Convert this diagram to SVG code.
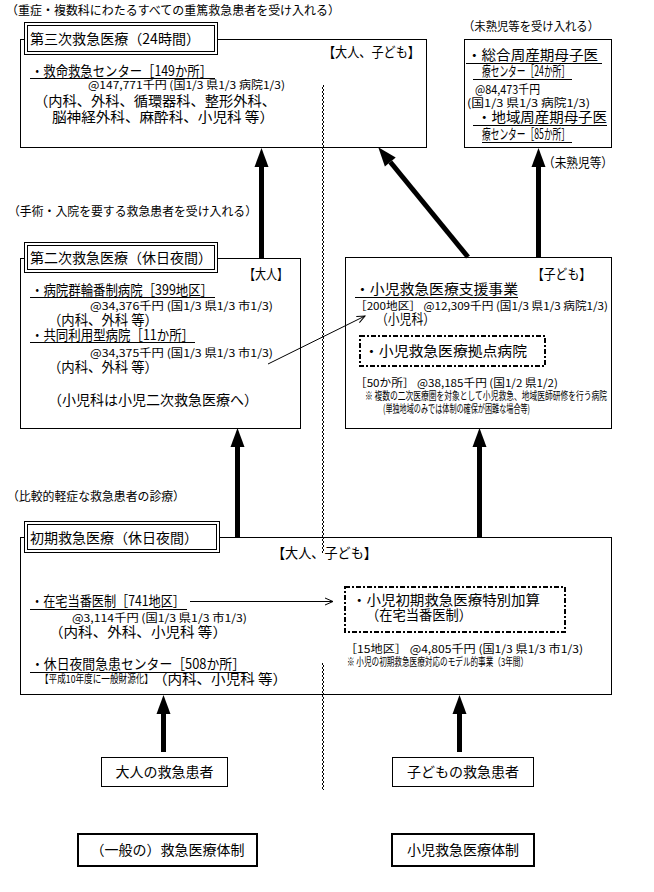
<svg xmlns="http://www.w3.org/2000/svg" width="654" height="892" viewBox="0 0 654 892">
<style>
text{font-family:'Noto Sans CJK JP','Noto Sans CJK SC',sans-serif;fill:#000}
.t14{font-size:14px}
.t13{font-size:13px}
.t12{font-size:12px}
.t11{font-size:11px}
.box{fill:#fff;stroke:#000;stroke-width:1}
.box2{fill:#fff;stroke:#000;stroke-width:2}
.ul{stroke:#000;stroke-width:1}
.dash{fill:#fff;stroke:#000;stroke-width:2;stroke-dasharray:5 2 2 2}
.thick{stroke:#000;stroke-width:5;fill:none;marker-end:url(#head)}
.thin{stroke:#000;stroke-width:1;fill:none;marker-end:url(#open)}
.mid{text-anchor:middle}
</style>
<defs>
<marker id="head" markerUnits="userSpaceOnUse" markerWidth="22" markerHeight="16" refX="0" refY="7" orient="auto" overflow="visible">
<path d="M0,0 L19,7 L0,14 z" fill="#000"/>
</marker>
<marker id="open" markerUnits="userSpaceOnUse" markerWidth="10" markerHeight="8" refX="8" refY="3.5" orient="auto" overflow="visible">
<path d="M0,0 L8,3.5 L0,7" fill="none" stroke="#000" stroke-width="1"/>
</marker>
<pattern id="wave" width="4" height="4" patternUnits="userSpaceOnUse" x="321" y="0">
<path d="M1,0 L3,2 L1,4" fill="none" stroke="#000" stroke-width="1"/>
</pattern>
</defs>
<rect width="654" height="892" fill="#fff"/>

<g id="tertiary">
<text class="t12" x="6" y="15" textLength="334" lengthAdjust="spacingAndGlyphs">（重症・複数科にわたるすべての重篤救急患者を受け入れる）</text>
<rect class="box" x="20.5" y="39.5" width="406" height="108"/>
<rect class="box" x="24.5" y="22.5" width="193" height="32"/>
<rect class="box" x="27.5" y="25.5" width="187" height="26"/>
<text class="t14" x="30" y="44" textLength="170" lengthAdjust="spacingAndGlyphs">第三次救急医療（24時間）</text>
<text class="t14" x="323" y="57" textLength="97" lengthAdjust="spacingAndGlyphs">【大人、子ども】</text>
<text class="t14" x="31" y="76" textLength="181" lengthAdjust="spacingAndGlyphs">・救命救急センター［149か所］</text>
<line class="ul" x1="30" y1="78.5" x2="215" y2="78.5"/>
<text class="t11" x="88" y="89" textLength="197" lengthAdjust="spacingAndGlyphs">@147,771千円 (国1/3 県1/3 病院1/3)</text>
<text class="t14" x="34" y="106" textLength="242" lengthAdjust="spacingAndGlyphs">（内科、外科、循環器科、整形外科、</text>
<text class="t14" x="52" y="122" textLength="222" lengthAdjust="spacingAndGlyphs">脳神経外科、麻酔科、小児科 等）</text>
</g>

<g id="perinatal">
<text class="t12" x="463" y="31" textLength="136" lengthAdjust="spacingAndGlyphs">（未熟児等を受け入れる）</text>
<rect class="box" x="464.5" y="39.5" width="147" height="108"/>
<text class="t14" x="467" y="60" textLength="131" lengthAdjust="spacingAndGlyphs">・総合周産期母子医</text>
<line class="ul" x1="466" y1="63.5" x2="602" y2="63.5"/>
<text class="t14" x="482" y="76" textLength="88" lengthAdjust="spacingAndGlyphs">療センター［24か所］</text>
<line class="ul" x1="473" y1="79.5" x2="572" y2="79.5"/>
<text class="t12" x="475" y="94" textLength="65" lengthAdjust="spacingAndGlyphs">@84,473千円</text>
<text class="t11" x="467" y="107" textLength="123" lengthAdjust="spacingAndGlyphs">(国1/3 県1/3 病院1/3)</text>
<text class="t14" x="477" y="122" textLength="130" lengthAdjust="spacingAndGlyphs">・地域周産期母子医</text>
<line class="ul" x1="473" y1="125.5" x2="607" y2="125.5"/>
<text class="t14" x="482" y="139" textLength="88" lengthAdjust="spacingAndGlyphs">療センター［85か所］</text>
<line class="ul" x1="482" y1="142.5" x2="572" y2="142.5"/>
</g>

<g id="secondary-adult">
<text class="t12" x="8" y="216" textLength="249" lengthAdjust="spacingAndGlyphs">（手術・入院を要する救急患者を受け入れる）</text>
<rect class="box" x="20.5" y="258.5" width="280" height="170"/>
<rect class="box" x="24.5" y="242.5" width="193" height="30"/>
<rect class="box" x="27.5" y="245.5" width="187" height="24"/>
<text class="t14" x="30" y="263" textLength="182" lengthAdjust="spacingAndGlyphs">第二次救急医療（休日夜間）</text>
<text class="t14" x="244" y="279" textLength="44" lengthAdjust="spacingAndGlyphs">【大人】</text>
<text class="t14" x="31" y="295" textLength="182" lengthAdjust="spacingAndGlyphs">・病院群輪番制病院［399地区］</text>
<line class="ul" x1="30" y1="297.5" x2="215" y2="297.5"/>
<text class="t11" x="90" y="310" textLength="183" lengthAdjust="spacingAndGlyphs">@34,376千円 (国1/3 県1/3 市1/3)</text>
<text class="t14" x="48" y="325" textLength="110" lengthAdjust="spacingAndGlyphs">（内科、外科 等）</text>
<text class="t14" x="31" y="340" textLength="163" lengthAdjust="spacingAndGlyphs">・共同利用型病院［11か所］</text>
<line class="ul" x1="30" y1="342.5" x2="195" y2="342.5"/>
<text class="t11" x="90" y="357" textLength="183" lengthAdjust="spacingAndGlyphs">@34,375千円 (国1/3 県1/3 市1/3)</text>
<text class="t14" x="48" y="372" textLength="110" lengthAdjust="spacingAndGlyphs">（内科、外科 等）</text>
<text class="t14" x="48" y="405" textLength="210" lengthAdjust="spacingAndGlyphs">（小児科は小児二次救急医療へ）</text>
</g>

<g id="secondary-child">
<rect class="box" x="345.5" y="257.5" width="266" height="171"/>
<text class="t14" x="532" y="279" textLength="59" lengthAdjust="spacingAndGlyphs">【子ども】</text>
<text class="t14" x="355" y="294" textLength="163" lengthAdjust="spacingAndGlyphs">・小児救急医療支援事業</text>
<line class="ul" x1="355" y1="297.5" x2="518" y2="297.5"/>
<text class="t11" x="355" y="310" textLength="253" lengthAdjust="spacingAndGlyphs">［200地区］ @12,309千円 (国1/3 県1/3 病院1/3)</text>
<text class="t14" x="376" y="324" textLength="59" lengthAdjust="spacingAndGlyphs">（小児科）</text>
<rect class="dash" x="360" y="336" width="185" height="30"/>
<text class="t14" x="364" y="356" textLength="163" lengthAdjust="spacingAndGlyphs">・小児救急医療拠点病院</text>
<text class="t11" x="355" y="387" textLength="203" lengthAdjust="spacingAndGlyphs">［50か所］ @38,185千円 (国1/2 県1/2)</text>
<text class="t11" x="365" y="400" textLength="242" lengthAdjust="spacingAndGlyphs">※ 複数の二次医療圏を対象として小児救急、地域医師研修を行う病院</text>
<text class="t11" x="383" y="413" textLength="147" lengthAdjust="spacingAndGlyphs">(単独地域のみでは体制の確保が困難な場合等)</text>
</g>

<g id="primary">
<text class="t12" x="7" y="501" textLength="178" lengthAdjust="spacingAndGlyphs">（比較的軽症な救急患者の診療）</text>
<rect class="box" x="20.5" y="537.5" width="591" height="157"/>
<rect class="box" x="24.5" y="521.5" width="195" height="31"/>
<rect class="box" x="27.5" y="524.5" width="189" height="25"/>
<text class="t14" x="30" y="543" textLength="168" lengthAdjust="spacingAndGlyphs">初期救急医療（休日夜間）</text>
<text class="t14" x="272" y="558" textLength="105" lengthAdjust="spacingAndGlyphs">【大人、子ども】</text>
<text class="t14" x="31" y="606" textLength="154" lengthAdjust="spacingAndGlyphs">・在宅当番医制［741地区］</text>
<line class="ul" x1="30" y1="609.5" x2="187" y2="609.5"/>
<text class="t11" x="72" y="622" textLength="175" lengthAdjust="spacingAndGlyphs">@3,114千円 (国1/3 県1/3 市1/3)</text>
<text class="t14" x="49" y="637" textLength="178" lengthAdjust="spacingAndGlyphs">（内科、外科、小児科 等）</text>
<text class="t14" x="31" y="669" textLength="214" lengthAdjust="spacingAndGlyphs">・休日夜間急患センター［508か所］</text>
<line class="ul" x1="30" y1="672.5" x2="248" y2="672.5"/>
<text class="t11" x="40" y="683" textLength="113" lengthAdjust="spacingAndGlyphs">【平成10年度に一般財源化】</text>
<text class="t14" x="153" y="684" textLength="134" lengthAdjust="spacingAndGlyphs">（内科、小児科 等）</text>
<rect class="dash" x="345" y="587" width="220" height="45"/>
<text class="t14" x="352" y="605" textLength="188" lengthAdjust="spacingAndGlyphs">・小児初期救急医療特別加算</text>
<text class="t14" x="366" y="620" textLength="106" lengthAdjust="spacingAndGlyphs">（在宅当番医制）</text>
<text class="t11" x="345" y="653" textLength="238" lengthAdjust="spacingAndGlyphs">［15地区］ @4,805千円 (国1/3 県1/3 市1/3)</text>
<text class="t11" x="347" y="666" textLength="181" lengthAdjust="spacingAndGlyphs">※ 小児の初期救急医療対応のモデル的事業（3年間）</text>
</g>

<g id="divider">
<rect x="321" y="85" width="4" height="468" fill="url(#wave)"/>
<rect x="321" y="663" width="4" height="127" fill="url(#wave)"/>
</g>

<g id="patient-adult">
<rect class="box" x="101.5" y="757.5" width="126" height="29"/>
<text class="t14 mid" x="164.5" y="777">大人の救急患者</text>
</g>
<g id="patient-child">
<rect class="box" x="392.5" y="757.5" width="141" height="29"/>
<text class="t14 mid" x="463" y="777">子どもの救急患者</text>
</g>
<g id="system-general">
<rect class="box2" x="78" y="834" width="179" height="32"/>
<text class="t14 mid" x="167.5" y="855">（一般の）救急医療体制</text>
</g>
<g id="system-child">
<rect class="box2" x="392" y="834" width="142" height="32"/>
<text class="t14 mid" x="463" y="855">小児救急医療体制</text>
</g>

<g id="connectors">
<line class="thick" x1="261.5" y1="258" x2="261.5" y2="167"/>
<line class="thick" x1="468" y1="257" x2="390.3" y2="162"/>
<line class="thick" x1="538.5" y1="257" x2="538.5" y2="167"/>
<text class="t13" x="543" y="167" textLength="70" lengthAdjust="spacingAndGlyphs">（未熟児等）</text>
<line class="thick" x1="237.5" y1="537" x2="237.5" y2="447"/>
<line class="thick" x1="479.5" y1="537" x2="479.5" y2="447"/>
<line class="thick" x1="163.5" y1="752" x2="163.5" y2="714"/>
<line class="thick" x1="459.5" y1="752" x2="459.5" y2="714"/>
<line class="thin" x1="268" y1="364" x2="365" y2="316"/>
<line class="thin" x1="190" y1="601.5" x2="333" y2="601.5"/>
</g>
</svg>
